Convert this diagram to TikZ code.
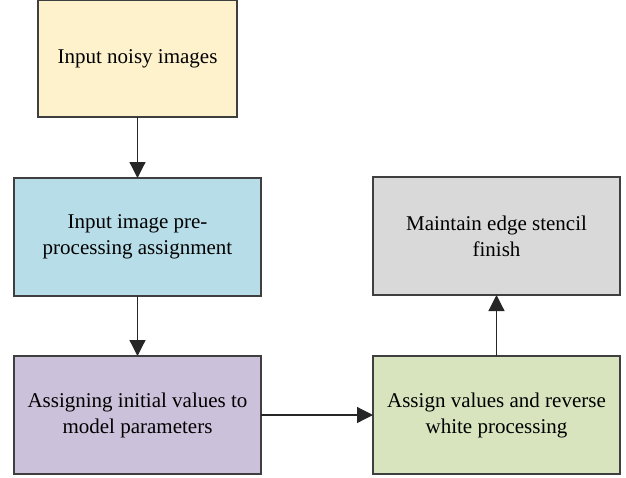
\documentclass[tikz,border=0pt]{standalone}
\usepackage{fontspec}
\setmainfont{Liberation Serif}
\usetikzlibrary{positioning,arrows.meta}
\definecolor{boxYellow}{HTML}{FDF2CC}
\definecolor{boxBlue}{HTML}{B7DDE8}
\definecolor{boxPurple}{HTML}{CCC1DA}
\definecolor{boxGreen}{HTML}{D7E4BD}
\definecolor{boxGray}{HTML}{D9D9D9}
\definecolor{edgeGray}{HTML}{3F3F3F}

\begin{document}
\begin{tikzpicture}[font=\fontsize{21}{26}\selectfont,
      proc/.style={draw=edgeGray,line width=1.2pt,minimum width=247pt,minimum height=118pt,align=center,outer sep=0pt},
      flow/.style={draw=black!85,line width=1.2pt,-{Triangle[length=16pt,width=16pt]}}]
    \useasboundingbox (0,0) rectangle (626pt,-477pt);
    \node[proc,fill=boxYellow,minimum width=199pt,minimum height=117pt] (input) at (137.5pt,-58.5pt) {Input noisy images};
    \node[proc,fill=boxBlue,below=61pt of input] (prep) {Input image pre-\\processing assignment};
    \node[proc,fill=boxPurple,below=60pt of prep] (init) {Assigning initial values to\\model parameters};
    \node[proc,fill=boxGreen,right=112pt of init] (rev) {Assign values and reverse\\white processing};
    \node[proc,fill=boxGray,above=61pt of rev] (edge) {Maintain edge stencil\\finish};
    \draw[flow] (input) -- (prep);
    \draw[flow] (prep) -- (init);
    \draw[flow] (init) -- (rev);
    \draw[flow] (rev) -- (edge);
  \end{tikzpicture}
\end{document}
